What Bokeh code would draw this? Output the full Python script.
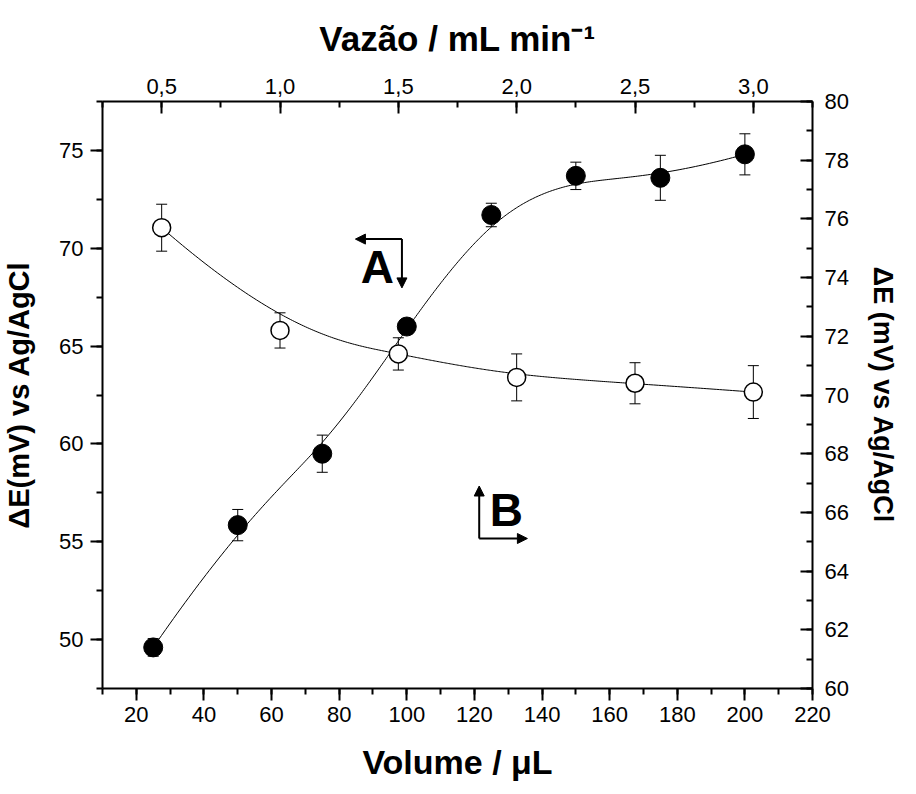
import numpy as np
from bokeh.plotting import figure
from bokeh.models import (Range1d, LinearAxis, FixedTicker, CustomJSTickFormatter,
                          Whisker, TeeHead, ColumnDataSource, Label, Arrow, NormalHead)
from bokeh.embed import file_html
from bokeh.resources import INLINE

# ---------------- data ----------------
volume = [25, 50, 75, 100, 125, 150, 175, 200]                 # µL (bottom axis)
dE_volume = [49.6, 55.85, 59.5, 66.0, 71.7, 73.7, 73.6, 74.8]  # left axis
err_volume = [0.45, 0.8, 0.95, 0.4, 0.6, 0.7, 1.15, 1.05]

flow = [0.5, 1.0, 1.5, 2.0, 2.5, 3.0]                          # mL/min (top axis)
dE_flow = [75.7, 72.2, 71.4, 70.6, 70.4, 70.1]                 # right axis
err_flow = [0.8, 0.6, 0.55, 0.8, 0.7, 0.9]

bottom_ticks = list(range(20, 221, 20))
left_ticks = [50, 55, 60, 65, 70, 75]
right_ticks = list(range(60, 81, 2))
top_ticks = [0.5, 1.0, 1.5, 2.0, 2.5, 3.0]

FONT = "Liberation Sans"

# ---------------- helpers ----------------
def bspline(xs, ys, n=300, k=3):
    P = np.column_stack([xs, ys]).astype(float)
    m = len(P)
    knots = np.concatenate([np.zeros(k), np.arange(m - k + 1), np.full(k, m - k)]).astype(float)
    t = np.linspace(0, m - k, n)
    N = np.zeros((n, len(knots) - 1))
    for i in range(len(knots) - 1):
        N[:, i] = (knots[i] <= t) & (t < knots[i + 1])
    N[t == knots[-1], m - 1] = 1.0
    for d in range(1, k + 1):
        Nn = np.zeros((n, len(knots) - 1 - d))
        for i in range(len(knots) - 1 - d):
            a = knots[i + d] - knots[i]
            b = knots[i + d + 1] - knots[i + 1]
            term = np.zeros(n)
            if a > 0:
                term += (t - knots[i]) / a * N[:, i]
            if b > 0:
                term += (knots[i + d + 1] - t) / b * N[:, i + 1]
            Nn[:, i] = term
        N = Nn
    C = N @ P
    return C[:, 0], C[:, 1]

# page pixel -> data (default ranges) for annotation placement
X0, X1, PX0, PX1 = 10, 220, 110, 823
Y0, Y1, PY0, PY1 = 47.5, 77.5, 696, 109
def fx(px):
    return X0 + (px - PX0) * (X1 - X0) / (PX1 - PX0)
def fy(py):
    return Y0 + (py - PY0) * (Y1 - Y0) / (PY1 - PY0)

# ---------------- figure ----------------
p = figure(width=900, height=786, x_range=Range1d(10, 220), y_range=Range1d(47.5, 77.5),
           output_backend="svg", toolbar_location=None,
           min_border_left=102, min_border_right=85, min_border_top=101, min_border_bottom=98)
p.extra_x_ranges = {"flow": Range1d(0.25, 3.25)}
p.extra_y_ranges = {"right": Range1d(60, 80)}
p.xgrid.visible = False
p.ygrid.visible = False
p.outline_line_color = None
p.background_fill_color = "white"
p.border_fill_color = "white"

def style_axis(ax, label, size, standoff, inside=False):
    ax.axis_line_width = 2
    ax.axis_line_color = "black"
    ax.major_tick_line_width = 2
    ax.minor_tick_line_width = 2
    ax.major_tick_line_color = "black"
    ax.minor_tick_line_color = "black"
    if inside:
        ax.major_tick_in, ax.major_tick_out = 12, 0
        ax.minor_tick_in, ax.minor_tick_out = 6, 0
    else:
        ax.major_tick_in, ax.major_tick_out = 0, 12
        ax.minor_tick_in, ax.minor_tick_out = 0, 6
    ax.major_label_text_font = FONT
    ax.major_label_text_font_size = "22px"
    ax.major_label_text_color = "black"
    ax.axis_label = label
    ax.axis_label_text_font = FONT
    ax.axis_label_text_font_size = size
    ax.axis_label_text_font_style = "bold"
    ax.axis_label_text_color = "black"
    ax.axis_label_standoff = standoff

bx = p.xaxis[0]
bx.ticker = FixedTicker(ticks=bottom_ticks, minor_ticks=list(range(10, 221, 10)))
style_axis(bx, "Volume / \u03bcL", "34px", 18)
bx.major_label_standoff = 6

ly = p.yaxis[0]
ly.ticker = FixedTicker(ticks=left_ticks, minor_ticks=list(np.arange(47.5, 77.6, 2.5)))
style_axis(ly, "\u0394E(mV) vs Ag/AgCl", "29px", 21)
ly.major_label_standoff = 7

tx = LinearAxis(x_range_name="flow")
tx.ticker = FixedTicker(ticks=top_ticks, minor_ticks=list(np.arange(0.25, 3.26, 0.25)))
tx.formatter = CustomJSTickFormatter(code="return tick.toFixed(1).replace('.', ',');")
style_axis(tx, "Vaz\u00e3o / mL min\u207b\u00b9", "35px", 18, inside=True)
tx.major_label_standoff = 8
p.add_layout(tx, "above")

ry = LinearAxis(y_range_name="right")
ry.ticker = FixedTicker(ticks=right_ticks, minor_ticks=list(range(60, 81, 1)))
style_axis(ry, "\u0394E (mV) vs Ag/AgCl", "27px", 16, inside=True)
ry.major_label_standoff = 12
p.add_layout(ry, "right")

# ---------------- series A: volume ----------------
srcA = ColumnDataSource(dict(x=volume, y=dE_volume,
                             lo=[v - e for v, e in zip(dE_volume, err_volume)],
                             hi=[v + e for v, e in zip(dE_volume, err_volume)]))
cx, cy = bspline(volume, dE_volume)
p.line(cx, cy, line_color="black", line_width=1)
p.add_layout(Whisker(source=srcA, base="x", lower="lo", upper="hi", dimension="height",
                     line_width=1, line_color="black",
                     lower_head=TeeHead(size=11, line_width=1, line_color="black"),
                     upper_head=TeeHead(size=11, line_width=1, line_color="black")))

# ---------------- series B: flow ----------------
srcB = ColumnDataSource(dict(x=flow, y=dE_flow,
                             lo=[v - e for v, e in zip(dE_flow, err_flow)],
                             hi=[v + e for v, e in zip(dE_flow, err_flow)]))
bxs, bys = bspline(flow, dE_flow)
p.line(bxs, bys, line_color="black", line_width=1, x_range_name="flow", y_range_name="right")
p.add_layout(Whisker(source=srcB, base="x", lower="lo", upper="hi", dimension="height",
                     line_width=1, line_color="black",
                     x_range_name="flow", y_range_name="right",
                     lower_head=TeeHead(size=11, line_width=1, line_color="black"),
                     upper_head=TeeHead(size=11, line_width=1, line_color="black")))

p.scatter("x", "y", source=srcA, marker="circle", size=19,
          fill_color="black", line_color="black")
p.scatter("x", "y", source=srcB, marker="circle", size=18,
          fill_color="white", line_color="black", line_width=1.5,
          x_range_name="flow", y_range_name="right")

# ---------------- annotations ----------------
def arrow(x0, y0, x1, y1):
    p.add_layout(Arrow(x_start=fx(x0), y_start=fy(y0), x_end=fx(x1), y_end=fy(y1),
                       line_width=2, line_color="black",
                       end=NormalHead(size=10, fill_color="black", line_color="black", line_width=1)))

p.add_layout(Label(x=fx(386), y=fy(274.6), text="A", text_font=FONT, text_font_size="46px",
                   text_font_style="bold", text_color="black",
                   text_align="center", text_baseline="middle"))
arrow(410.7, 246.6, 364, 246.6)
arrow(410.7, 246.6, 410.7, 295.4)

p.add_layout(Label(x=fx(515.5), y=fy(517.9), text="B", text_font=FONT, text_font_size="46px",
                   text_font_style="bold", text_color="black",
                   text_align="center", text_baseline="middle"))
arrow(488.3, 546, 488.3, 493.5)
arrow(488.3, 546, 536.7, 546)

open("out.html", "w").write(file_html(p, INLINE))
